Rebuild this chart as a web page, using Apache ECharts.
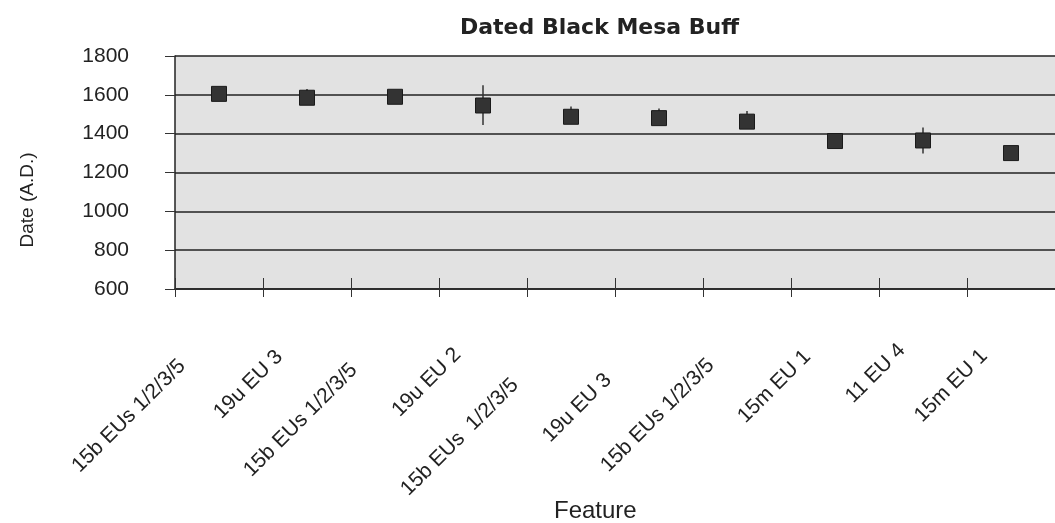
<!DOCTYPE html>
<html>
<head>
<meta charset="utf-8">
<script src="https://cdn.jsdelivr.net/npm/echarts@6/dist/echarts.min.js"></script>
<style>
html,body{margin:0;padding:0;background:#fff;}
#c{width:1055px;height:523px;}
</style>
</head>
<body>
<div id="c"></div>
<script>
const categories = ['15b EUs 1/2/3/5','19u EU 3','15b EUs 1/2/3/5','19u EU 2','15b EUs  1/2/3/5','19u EU 3','15b EUs 1/2/3/5','15m EU 1','11 EU 4','15m EU 1'];
const dates = [1605, 1585, 1590, 1545, 1487, 1480, 1462, 1362, 1365, 1300];
const errHigh = [null, 1630, null, 1650, 1540, 1530, 1517, null, 1432, null];
const errLow  = [null, 1560, null, 1445, 1450, 1445, 1430, null, 1298, null];
const yTicks = [600, 800, 1000, 1200, 1400, 1600, 1800];

// label layout (scanned chart places its slanted labels unevenly)
const labelPadRight = [52, 39, 58, 36, 79, 72, 51, 39, 30, 38];
const labelPadTop   = [7, 7, 4, 0, 0, 13, 6, 0, 0, 0];
const labelPadBottom= [0, 0, 0, 0, 13, 0, 0, 10, 14, 16];

const errData = categories.map((c, i) => [i, errLow[i], errHigh[i]]).filter(d => d[1] != null);
const catItems = categories.map((c, i) => ({
  value: c,
  textStyle: {padding: [labelPadTop[i], labelPadRight[i], labelPadBottom[i], 0]}
}));

const chart = echarts.init(document.getElementById('c'), null, {renderer: 'canvas'});
chart.setOption({
  backgroundColor: '#ffffff',
  animation: false,
  title: [{
    text: 'Dated Black Mesa Buff',
    left: 455, top: 12,
    textStyle: {fontFamily: 'DejaVu Sans', fontWeight: 'bold', fontSize: 22, color: '#222'}
  }, {
    text: 'Feature',
    left: 549, top: 494,
    textStyle: {fontFamily: 'Liberation Sans', fontWeight: 'normal', fontSize: 24, color: '#222'}
  }],
  graphic: [{
    type: 'text',
    x: 28, y: 200,
    rotation: Math.PI / 2,
    style: {
      text: 'Date (A.D.)',
      align: 'center', verticalAlign: 'middle',
      font: '19px "Liberation Sans"',
      fill: '#222'
    }
  }],
  grid: {left: 175, top: 56, width: 887, height: 233, show: true, backgroundColor: '#e2e2e2', borderWidth: 0},
  xAxis: [{
    type: 'category',
    data: catItems,
    boundaryGap: true,
    axisLine: {show: true, lineStyle: {color: '#222', width: 1.5}},
    axisTick: {show: true, interval: 0, inside: true, length: 11, lineStyle: {color: '#333', width: 1}},
    axisLabel: {
      interval: 0, rotate: 45, margin: 37,
      fontFamily: 'Liberation Sans', fontSize: 21, color: '#222'
    },
    splitLine: {show: false}
  }, {
    type: 'category',
    data: categories,
    position: 'bottom',
    boundaryGap: true,
    axisLine: {show: false},
    axisTick: {show: true, interval: 0, inside: false, length: 8, lineStyle: {color: '#333', width: 1}},
    axisLabel: {show: false},
    splitLine: {show: false}
  }],
  yAxis: {
    type: 'value',
    min: yTicks[0], max: yTicks[yTicks.length - 1], interval: 200,
    axisLine: {show: true, lineStyle: {color: '#222', width: 1.5}},
    axisTick: {show: true, inside: false, length: 10, lineStyle: {color: '#333'}},
    axisLabel: {
      margin: 46, fontFamily: 'Liberation Sans', fontSize: 21, color: '#222',
      formatter: function (v) { return String(v); }
    },
    splitLine: {show: true, lineStyle: {color: '#222', width: 1.5}}
  },
  series: [{
    type: 'custom',
    xAxisIndex: 0,
    data: errData,
    renderItem: function (params, api) {
      const p1 = api.coord([api.value(0), api.value(1)]);
      const p2 = api.coord([api.value(0), api.value(2)]);
      return {
        type: 'line',
        shape: {x1: p1[0], y1: p1[1], x2: p2[0], y2: p2[1]},
        style: {stroke: '#333', lineWidth: 1.5}
      };
    },
    z: 2
  }, {
    type: 'scatter',
    xAxisIndex: 0,
    data: dates,
    symbol: 'rect',
    symbolSize: 15,
    itemStyle: {color: '#333333', borderColor: '#1a1a1a', borderWidth: 1, opacity: 1},
    z: 3
  }]
});
</script>
</body>
</html>
